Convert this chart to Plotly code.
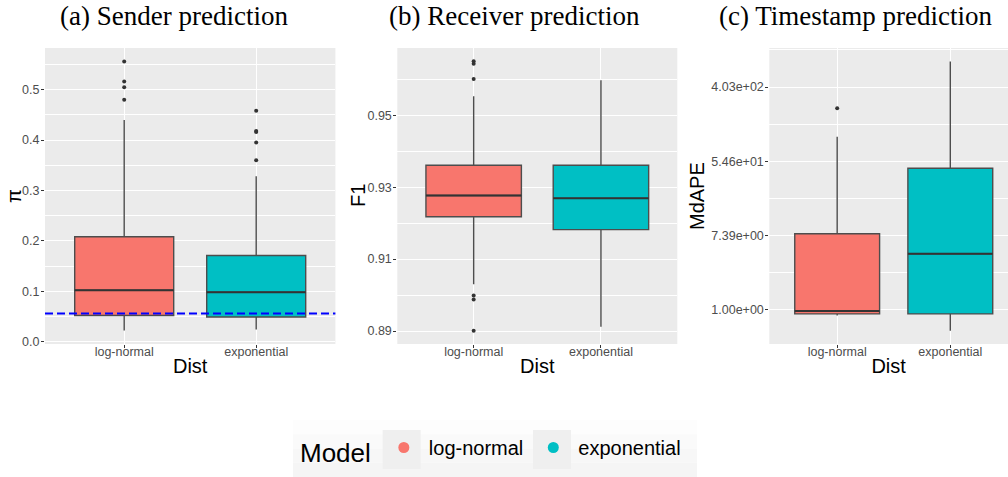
import numpy as np
import plotly.graph_objects as go

W, H = 1008, 477

categories = ["log-normal", "exponential"]
colors = ["#F8766D", "#00BFC4"]

# (a) Sender prediction  -- metric pi
sender_q1 = [0.052, 0.049]
sender_median = [0.102, 0.098]
sender_q3 = [0.208, 0.171]
sender_lower = [0.022, 0.024]
sender_upper = [0.440, 0.328]
sender_outliers = [[0.556, 0.516, 0.505, 0.480],
                   [0.458, 0.418, 0.416, 0.395, 0.360]]
sender_baseline = 0.056
sender_ticks = [0.0, 0.1, 0.2, 0.3, 0.4, 0.5]
sender_ticklabels = ["0.0", "0.1", "0.2", "0.3", "0.4", "0.5"]

# (b) Receiver prediction -- F1
receiver_q1 = [0.9218, 0.9182]
receiver_median = [0.9277, 0.9269]
receiver_q3 = [0.9361, 0.9361]
receiver_lower = [0.9030, 0.8912]
receiver_upper = [0.9553, 0.9597]
receiver_outliers = [[0.9650, 0.9643, 0.9601, 0.8999, 0.8988, 0.8901], []]
receiver_ticks = [0.89, 0.91, 0.93, 0.95]
receiver_ticklabels = ["0.89", "0.91", "0.93", "0.95"]

# (c) Timestamp prediction -- MdAPE (log scale)
ts_q1 = [0.896, 0.896]
ts_median = [0.970, 4.53]
ts_q3 = [7.77, 45.2]
ts_lower = [0.861, 0.571]
ts_upper = [105.6, 804.0]
ts_outliers = [[228.0], []]
ts_ticks = [1.0, 7.389, 54.6, 403.4]
ts_ticklabels = ["1.00e+00", "7.39e+00", "5.46e+01", "4.03e+02"]
ts_minor = [2.718, 20.09, 148.4, 1096.6]

panel_titles = ["(a) Sender prediction", "(b) Receiver prediction", "(c) Timestamp prediction"]
y_titles = ["π", "F1", "MdAPE"]
x_title = "Dist"
legend_title = "Model"

BOXW = 0.75
BG = "#EBEBEB"
DARK = "#333333"
EDGE = "#4D4D4D"
SANS = "Liberation Sans, Arial, sans-serif"
SERIF = "Liberation Serif, Times New Roman, serif"

panels = [
    (sender_q1, sender_median, sender_q3, sender_lower, sender_upper, sender_outliers),
    (receiver_q1, receiver_median, receiver_q3, receiver_lower, receiver_upper, receiver_outliers),
    (ts_q1, ts_median, ts_q3, ts_lower, ts_upper, ts_outliers),
]
axes_ids = [("x", "y"), ("x2", "y2"), ("x3", "y3")]

fig = go.Figure()
for p, (q1, med, q3, lo, up, outl) in enumerate(panels):
    xa, ya = axes_ids[p]
    for i, cat in enumerate(categories):
        fig.add_trace(go.Box(
            x=[i], q1=[q1[i]], median=[med[i]], q3=[q3[i]],
            lowerfence=[lo[i]], upperfence=[up[i]],
            width=BOXW, whiskerwidth=0, boxpoints=False,
            fillcolor=colors[i], line=dict(color=EDGE, width=1.4),
            xaxis=xa, yaxis=ya, showlegend=False, hoverinfo="skip", name=cat))
        fig.add_trace(go.Scatter(
            x=[i - BOXW / 2, i + BOXW / 2], y=[med[i], med[i]], mode="lines",
            line=dict(color=DARK, width=2), xaxis=xa, yaxis=ya,
            showlegend=False, hoverinfo="skip"))
        if outl[i]:
            fig.add_trace(go.Scatter(
                x=[i] * len(outl[i]), y=outl[i], mode="markers",
                marker=dict(color=DARK, size=4), xaxis=xa, yaxis=ya,
                showlegend=False, hoverinfo="skip"))

for i, cat in enumerate(categories):
    fig.add_trace(go.Scatter(x=[None], y=[None], mode="markers", name=cat,
                             marker=dict(color=colors[i], size=11),
                             xaxis="x", yaxis="y", showlegend=True))


def px_x(v):
    return v / W


def px_y(v):
    return 1 - v / H


ydom = [px_y(344), px_y(48)]
xdoms = [[px_x(45), px_x(335.4)], [px_x(397.3), px_x(677.3)], [px_x(769.3), 1.0]]
xranges = [[-0.6, 1.6], [-0.6, 1.6], [-0.6, 1.51]]
tickfont = dict(family=SANS, size=12.5, color="#4D4D4D")
titlefont = dict(family=SANS, size=20, color="black")

common_x = dict(tickmode="array", tickvals=[0, 1], ticktext=categories,
                showgrid=True, gridcolor="white", gridwidth=1.2,
                ticks="outside", ticklen=3, tickcolor=DARK, tickfont=tickfont,
                ticklabelstandoff=-7,
                zeroline=False, showline=False, automargin=False,
                title=dict(text=x_title, font=titlefont, standoff=0))
common_y = dict(showgrid=True, gridcolor="white", gridwidth=1.2,
                ticks="outside", ticklen=3, tickcolor=DARK, tickfont=tickfont,
                ticklabelstandoff=-1,
                zeroline=False, showline=False, automargin=False)

layout = dict(
    width=W, height=H, margin=dict(l=0, r=0, t=0, b=0),
    paper_bgcolor="white", plot_bgcolor=BG,
    font=dict(family=SANS),
)

for p in range(3):
    sfx = "" if p == 0 else str(p + 1)
    layout["xaxis" + sfx] = dict(common_x, domain=xdoms[p], range=xranges[p],
                                 anchor="y" + sfx)
layout["yaxis"] = dict(common_y, domain=ydom, anchor="x", range=[-0.0047, 0.5827],
                       tickmode="array", tickvals=sender_ticks, ticktext=sender_ticklabels,
                       minor=dict(dtick=0.05, tick0=0.05, showgrid=True, gridcolor="white",
                                  gridwidth=0.6, ticks=""))
layout["yaxis2"] = dict(common_y, domain=ydom, anchor="x2", range=[0.8864, 0.9687],
                        tickmode="array", tickvals=receiver_ticks, ticktext=receiver_ticklabels,
                        minor=dict(dtick=0.02, tick0=0.90, showgrid=True, gridcolor="white",
                                   gridwidth=0.6, ticks=""))
layout["yaxis3"] = dict(common_y, domain=ydom, anchor="x3", type="log",
                        range=[np.log10(np.exp(-0.92)), np.log10(np.exp(7.05))],
                        tickmode="array", tickvals=ts_ticks, ticktext=ts_ticklabels,
                        minor=dict(tickmode="array", tickvals=ts_minor, showgrid=True,
                                   gridcolor="white", gridwidth=0.6, ticks=""))

fig.update_layout(**layout)

# dashed baseline in panel (a)
fig.add_shape(type="line", xref="x domain", yref="y", x0=0, x1=1,
              y0=sender_baseline, y1=sender_baseline,
              line=dict(color="#0000FF", width=2, dash="8px,4px"), layer="above")

# panel titles
title_centers = [173.5, 514.5, 855.5]
for t, cx in zip(panel_titles, title_centers):
    fig.add_annotation(text=t, xref="paper", yref="paper", x=px_x(cx), y=px_y(16),
                       xanchor="center", yanchor="middle", showarrow=False,
                       font=dict(family=SERIF, size=27, color="black"))

# y-axis titles
ytitle_x = [14, 358, 697]
for t, cx in zip(y_titles, ytitle_x):
    fig.add_annotation(text=t, xref="paper", yref="paper", x=px_x(cx), y=px_y(196),
                       xanchor="center", yanchor="middle", showarrow=False,
                       textangle=-90, font=titlefont)

# legend background (soft gradient) and key squares
bands = ["#FDFDFD", "#FAFAFA", "#F7F7F7", "#F5F5F5"]
top, bottom = 420, 477
step = (bottom - top) / len(bands)
for k, c in enumerate(bands):
    fig.add_shape(type="rect", xref="paper", yref="paper",
                  x0=px_x(293), x1=px_x(697), y0=px_y(top + (k + 1) * step),
                  y1=px_y(top + k * step), fillcolor=c, line=dict(width=0), layer="below")
for x0 in (382.7, 533):
    fig.add_shape(type="rect", xref="paper", yref="paper",
                  x0=px_x(x0), x1=px_x(x0 + 38), y0=px_y(469), y1=px_y(430),
                  fillcolor="#EFEFEF", line=dict(width=0), layer="below")

fig.update_layout(legend=dict(
    orientation="h", x=px_x(492), xanchor="center", y=px_y(450), yanchor="middle",
    itemwidth=40,
    bgcolor="rgba(0,0,0,0)", font=dict(size=20, color="black", family=SANS),
    title=dict(text=legend_title, font=dict(size=26, color="black", family=SANS)),
))

fig.write_html("out.html")
